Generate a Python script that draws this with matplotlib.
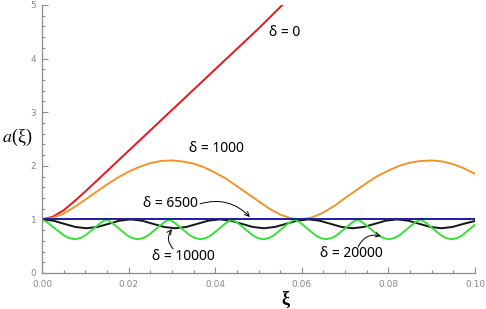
#!/usr/bin/env python

from matplotlib import pyplot as plt
from matplotlib.ticker import MultipleLocator, FormatStrFormatter
import numpy as np

plt.rcParams['mathtext.fontset'] = 'stix'

# delta = 0
red_xi = [0, 0.0025, 0.005, 0.0075, 0.01, 0.0125, 0.015, 0.0175, 0.02,
          0.025, 0.03, 0.035, 0.04, 0.045, 0.05, 0.0555]
red_a = [1.00, 1.05, 1.17, 1.34, 1.52, 1.71, 1.90, 2.09, 2.28,
         2.66, 3.04, 3.42, 3.80, 4.18, 4.56, 5.00]

# delta = 1000, read every 0.0025
orange_a = [1.00, 1.03, 1.11, 1.23, 1.37, 1.51, 1.65, 1.78, 1.89, 1.98,
            2.05, 2.09, 2.10, 2.08, 2.04, 1.97, 1.87, 1.76, 1.62, 1.48,
            1.34, 1.20, 1.09, 1.02, 1.00, 1.04, 1.13, 1.25, 1.40, 1.54,
            1.68, 1.81, 1.91, 2.00, 2.06, 2.09, 2.10, 2.08, 2.03, 1.95,
            1.85]
orange_xi = np.linspace(0, 0.1, len(orange_a))

# delta = 6500
blue_xi = [0.0, 0.1]
blue_a = [1.0, 1.0]

# delta = 10000
black_xi = [0.0, 0.0026, 0.0051, 0.0077, 0.01025, 0.0128, 0.0154, 0.0179,
            0.0205, 0.0231, 0.0256, 0.0282, 0.03075, 0.0333, 0.0359, 0.0384,
            0.0410, 0.0436, 0.0461, 0.0487, 0.05125, 0.0538, 0.0564, 0.0589,
            0.0615, 0.0641, 0.0666, 0.0692, 0.07175, 0.0743, 0.0769, 0.0794,
            0.0820, 0.0846, 0.0871, 0.0897, 0.09225, 0.0948, 0.0974, 0.1000]
black_a = [1.00, 0.976, 0.918, 0.859, 0.835, 0.859, 0.918, 0.976,
           1.00, 0.976, 0.918, 0.859, 0.835, 0.859, 0.918, 0.976,
           1.00, 0.976, 0.918, 0.859, 0.835, 0.859, 0.918, 0.976,
           1.00, 0.976, 0.918, 0.859, 0.835, 0.859, 0.918, 0.976,
           1.00, 0.976, 0.918, 0.859, 0.835, 0.859, 0.918, 0.970]

# delta = 20000
green_xi = [0.0, 0.0013, 0.0025, 0.0038, 0.0051, 0.0063, 0.0076,
            0.0088, 0.0100, 0.0112, 0.0124, 0.0136, 0.01485,
            0.0161, 0.0173, 0.0185, 0.0197, 0.0209, 0.0221,
            0.0233, 0.0245, 0.0257, 0.0269, 0.0281, 0.02935,
            0.0306, 0.0318, 0.0330, 0.0342, 0.0354, 0.0366,
            0.0378, 0.0390, 0.0402, 0.0414, 0.0426, 0.04385,
            0.0451, 0.0463, 0.0475, 0.0487, 0.0499, 0.0511,
            0.0523, 0.0535, 0.0547, 0.0559, 0.0571, 0.05835,
            0.0596, 0.0608, 0.0620, 0.0632, 0.0644, 0.0656,
            0.0668, 0.0680, 0.0692, 0.0704, 0.0716, 0.07285,
            0.0741, 0.0753, 0.0765, 0.0777, 0.0789, 0.0801,
            0.0813, 0.0825, 0.0837, 0.0849, 0.0861, 0.08735,
            0.0886, 0.0898, 0.0910, 0.0922, 0.0934, 0.0946,
            0.0958, 0.0970, 0.0982, 0.0994, 0.1000]
green_a = [1.00, 0.94, 0.86, 0.78, 0.70, 0.65, 0.63,
           0.65, 0.70, 0.78, 0.86, 0.94, 1.00,
           0.94, 0.86, 0.78, 0.70, 0.65, 0.63,
           0.65, 0.70, 0.78, 0.86, 0.94, 1.00,
           0.94, 0.86, 0.78, 0.70, 0.65, 0.63,
           0.65, 0.70, 0.78, 0.86, 0.94, 1.00,
           0.94, 0.86, 0.78, 0.70, 0.65, 0.63,
           0.65, 0.70, 0.78, 0.86, 0.94, 1.00,
           0.94, 0.86, 0.78, 0.70, 0.65, 0.63,
           0.65, 0.70, 0.78, 0.86, 0.94, 1.00,
           0.94, 0.86, 0.78, 0.70, 0.65, 0.63,
           0.65, 0.70, 0.78, 0.86, 0.94, 1.00,
           0.94, 0.86, 0.78, 0.70, 0.65, 0.63,
           0.65, 0.70, 0.78, 0.86, 0.90]

fig = plt.figure(figsize=(4.86, 3.09), dpi=100)
ax = fig.add_axes([42 / 486, 36 / 309, 433 / 486, 268 / 309])

ax.plot(red_xi, red_a, color='#e8161c', lw=1.4)
ax.plot(orange_xi, orange_a, color='#f0942c', lw=1.4)
ax.plot(black_xi, black_a, color='#151515', lw=1.4)
ax.plot(green_xi, green_a, color='#3ade3a', lw=1.4)
ax.plot(blue_xi, blue_a, color='#1c1ca0', lw=1.4)

ax.set_xlim(0, 0.1)
ax.set_ylim(0, 5)
ax.xaxis.set_major_locator(MultipleLocator(0.02))
ax.xaxis.set_minor_locator(MultipleLocator(0.005))
ax.xaxis.set_major_formatter(FormatStrFormatter('%.2f'))
ax.yaxis.set_major_locator(MultipleLocator(1))
ax.yaxis.set_minor_locator(MultipleLocator(0.2))

for s in ['top', 'right']:
    ax.spines[s].set_visible(False)
for s in ['left', 'bottom']:
    ax.spines[s].set_color('#8c8c8c')
    ax.spines[s].set_linewidth(0.9)
ax.tick_params(which='both', direction='in', colors='#8c8c8c',
               labelcolor='#8a8a8a', labelsize=6.5, width=0.8)
ax.tick_params(which='major', length=4)
ax.tick_params(which='minor', length=2.3)
ax.tick_params(axis='x', pad=5)
ax.tick_params(axis='y', pad=4)

lab = dict(family='Noto Sans', fontsize=10, color='black', ha='center', va='center')
ax.text(0.0561, 4.48, 'δ = 0', **lab)
ax.text(0.0404, 2.33, 'δ = 1000', **lab)
ax.text(0.0296, 1.29, 'δ = 6500', **lab)
ax.text(0.0326, 0.30, 'δ = 10000', **lab)
ax.text(0.0714, 0.37, 'δ = 20000', **lab)

arr = dict(arrowstyle='->', lw=0.7, color='black', shrinkA=0, shrinkB=0,
           mutation_scale=8)
ax.annotate('', xy=(0.0480, 1.045), xytext=(0.0365, 1.29),
            arrowprops=dict(arr, connectionstyle='arc3,rad=-0.3'))
ax.annotate('', xy=(0.0300, 0.82), xytext=(0.0303, 0.45),
            arrowprops=dict(arr, connectionstyle='arc3,rad=-0.4'))
ax.annotate('', xy=(0.0783, 0.69), xytext=(0.0730, 0.485),
            arrowprops=dict(arr, connectionstyle='arc3,rad=-0.4'))

fig.text(17 / 486, 1 - 137 / 309, r'$a$(ξ)', family='Liberation Serif',
         fontsize=13, ha='center', va='center')
fig.text(285 / 486, 1 - 299 / 309, 'ξ', family='Liberation Serif',
         weight='bold', fontsize=13, ha='center', va='center')

plt.savefig('out.png', dpi=100)
